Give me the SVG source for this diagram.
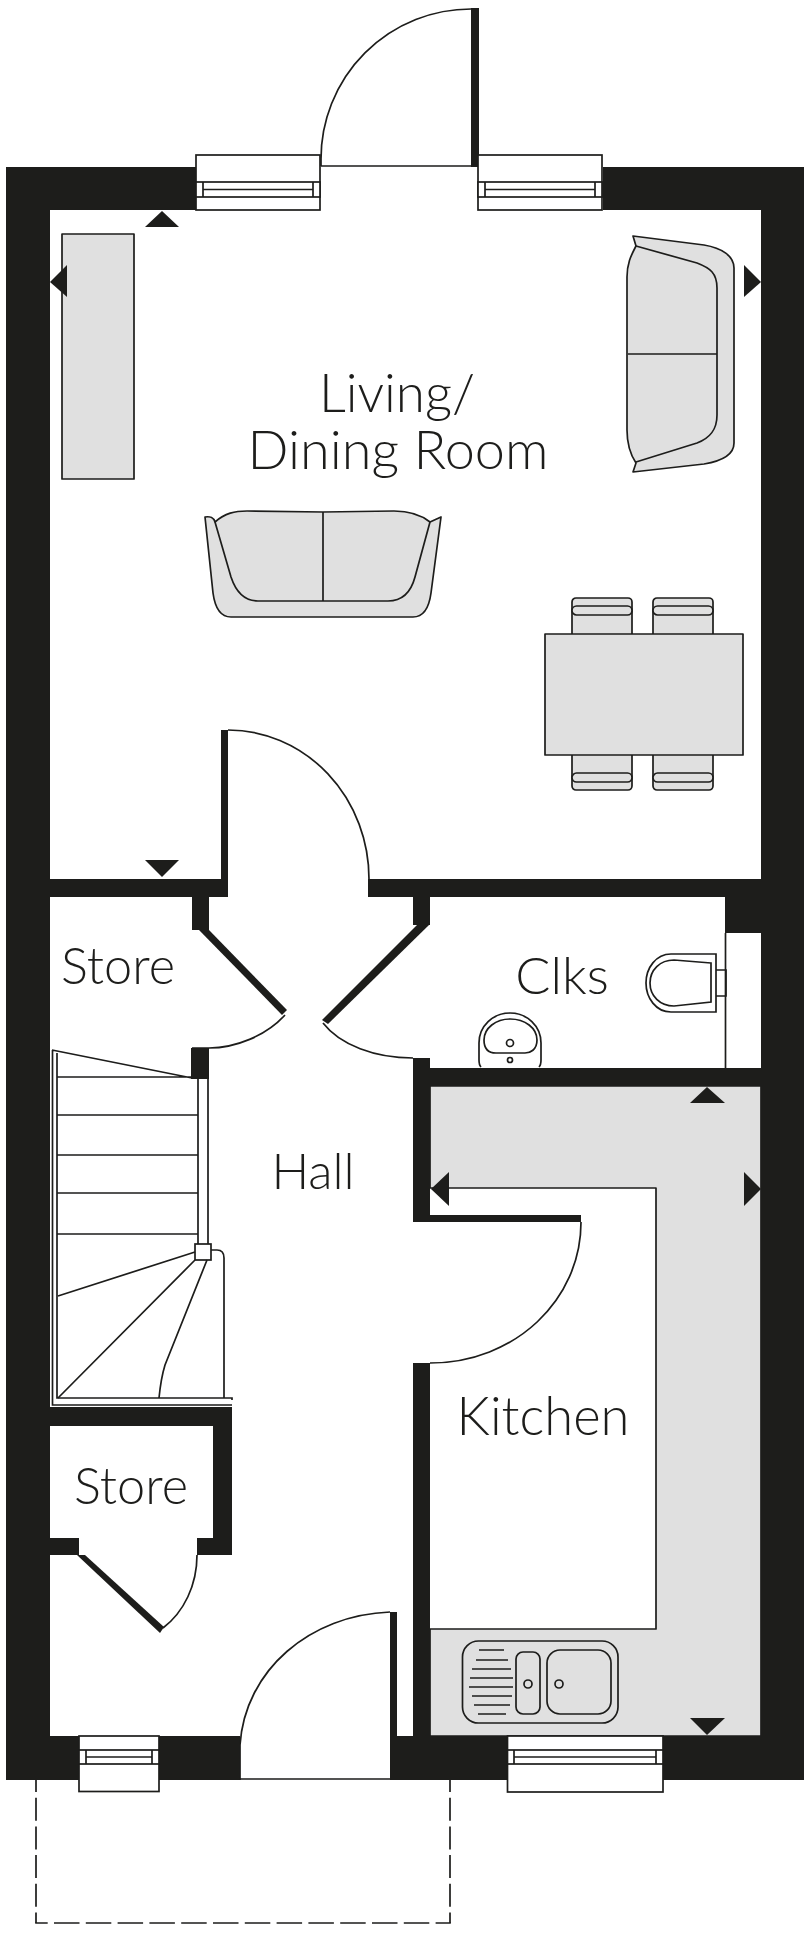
<svg xmlns="http://www.w3.org/2000/svg" width="808" height="1936" viewBox="0 0 808 1936">
<style>
.w{fill:#1d1d1b;stroke:none}
.l{fill:none;stroke:#1d1d1b;stroke-width:1.7}
.g{fill:#e0e0e0;stroke:#1d1d1b;stroke-width:1.7;stroke-linejoin:round}
.f{fill:#fff;stroke:#1d1d1b;stroke-width:1.7}
.t{fill:#1d1d1b;font-family:Lato,"Noto Sans",sans-serif;font-weight:300;text-anchor:middle}
.d{fill:none;stroke:#1d1d1b;stroke-width:1.7}
</style>
<defs>
<g id="win"><rect class="f" x="0" y="0" width="124" height="55"/><rect class="f" x="0" y="27" width="124" height="15"/><path class="l" d="M7 27V42M117 27V42M7 34.500H117"/></g>
<g id="chair"><rect class="g" x="0" y="0" width="60" height="40" rx="4"/><rect class="g" x="0" y="8" width="60" height="9" rx="4.500"/></g>
</defs>
<rect width="808" height="1936" fill="#fff"/>
<g id="kitchen-units">
<path class="g" d="M430 1086H761V1736H430V1629H656V1188H430Z"/>
</g>
<g id="walls">
<rect class="w" x="6" y="167" width="44" height="1613"/>
<rect class="w" x="6" y="167" width="191" height="43"/>
<rect class="w" x="603" y="167" width="201" height="43"/>
<rect class="w" x="761" y="167" width="43" height="1613"/>
<rect class="w" x="50" y="879" width="178" height="18"/>
<rect class="w" x="221" y="730" width="7" height="167"/>
<rect class="w" x="192" y="897" width="17" height="33"/>
<rect class="w" x="191" y="1048" width="18" height="31"/>
<rect class="w" x="50" y="1407" width="182" height="19"/>
<rect class="w" x="213" y="1407" width="19" height="148"/>
<rect class="w" x="197" y="1538" width="35" height="17"/>
<rect class="w" x="50" y="1538" width="29" height="17"/>
<rect class="w" x="6" y="1736" width="234" height="44"/>
<rect class="w" x="368" y="879" width="393" height="18"/>
<rect class="w" x="725" y="897" width="36" height="36"/>
<rect class="w" x="413" y="897" width="17" height="28"/>
<rect class="w" x="413" y="1058" width="17" height="164"/>
<rect class="w" x="413" y="1068" width="348" height="18"/>
<rect class="w" x="430" y="1215" width="151" height="7"/>
<rect class="w" x="413" y="1363" width="17" height="373"/>
<rect class="w" x="390" y="1736" width="414" height="44"/>
<rect class="w" x="390" y="1612" width="7" height="168"/>
<rect class="w" x="471" y="8" width="8" height="159"/>
</g>
<g id="doors">
<path class="l" d="M321 166V159A150 150 0 0 1 471 9M321 166H471"/>
<path class="l" d="M228 730A141 149 0 0 1 369 879"/>
<path class="w" d="M199 930H209L287 1010L282 1015Z"/>
<path class="l" d="M285 1015C266 1036 235 1048 209 1048H192"/>
<path class="w" d="M417 925H429L328 1024L322 1020Z"/>
<path class="l" d="M323 1023C340 1045 375 1058 413 1058"/>
<path class="l" d="M581 1222C581 1300 515 1363 430 1363"/>
<path class="w" d="M77 1555H85L164 1627L160 1633Z"/>
<path class="l" d="M163 1628C184 1612 197 1585 197 1555"/>
<path class="l" d="M240 1780V1745C245 1670 310 1615 390 1612M240 1779H390"/>
</g>
<g id="windows">
<use href="#win" x="196" y="155"/>
<use href="#win" x="478" y="155"/>
<rect class="f" x="79" y="1736" width="80" height="55.500"/>
<rect class="f" x="79" y="1750" width="80" height="14"/>
<path class="l" d="M86 1750V1764M152 1750V1764M86 1757H152"/>
<rect class="f" x="507.500" y="1736" width="155.500" height="56"/>
<rect class="f" x="507.500" y="1750" width="155.500" height="14"/>
<path class="l" d="M514 1750V1764M656 1750V1764M514 1757H656"/>
</g>
<g id="stairs">
<path class="l" d="M52.500 1050V1405H232M57 1053V1398H232V1400M52 1050L192 1078M57 1077H198M57 1115H198M57 1155H198M57 1193H198M57 1234H198M198 1078V1244M208 1079V1244"/>
<rect class="f" x="195" y="1244" width="16" height="16"/>
<path class="l" d="M211 1250H217Q224 1250 224 1258V1398M195 1252L58 1296M195 1260L58 1398M207 1260L165 1365Q161 1378 159 1398"/>
</g>
<g id="sideboard"><rect class="g" x="62" y="234" width="72" height="245"/></g>
<g id="sofa-right">
<path class="g" d="M633 236L704 245C722 248 734 256 734 268V443C734 455 722 461 704 464L633 472L636 463C630 454 627 445 627 430V277C627 262 632 254 636 246Z"/>
<path class="l" d="M636 246L697 263C710 268 717 273 717 288V415C717 430 710 438 697 443L636 462M628 354H717"/>
</g>
<g id="sofa-bottom">
<path class="g" d="M205 517C210 516 214 518 215 522C225 513 235 511 247 511L323 512L394 511C406 511 420 514 430 522L441 517L431 593C429 608 424 617 413 617H231C220 617 215 608 213 593Z"/>
<path class="l" d="M215 522L231 577C236 592 245 601 258 601H388C403 601 411 592 415 577L430 522M323 512V601"/>
</g>
<g id="dining">
<use href="#chair" x="572" y="598"/>
<use href="#chair" x="653" y="598"/>
<use href="#chair" transform="translate(572,790) scale(1,-1)"/>
<use href="#chair" transform="translate(653,790) scale(1,-1)"/>
<rect class="g" x="545" y="634" width="198" height="121"/>
</g>
<g id="wc">
<path class="f" d="M716 970H726V996H716"/>
<path class="f" d="M716 954H671C656 954 646 968 646 983C646 998 656 1012 671 1012H716Z"/>
<path class="l" d="M711 963L674 960C660 960 650 970 650 983C650 996 660 1006 674 1006L711 1002Z"/>
<path class="l" d="M725.500 933V1068"/>
<path class="l" d="M481 1067Q479 1065 479 1060V1043C479 1026 493 1013 510 1013C527 1013 541 1026 541 1043V1060Q541 1065 539 1067"/>
<path class="l" d="M484 1040C484 1028 496 1019 510 1019C525 1019 537 1028 537 1040C537 1050 530 1053 525 1053H496C489 1053 484 1050 484 1040Z"/>
<circle class="l" cx="510" cy="1043" r="3.500"/>
<circle class="l" cx="510" cy="1060" r="2.500"/>
</g>
<g id="sink">
<rect class="g" x="462.500" y="1641" width="155.500" height="82" rx="16"/>
<rect class="l" x="516" y="1652" width="24" height="62" rx="7"/>
<rect class="l" x="547" y="1650" width="64" height="64" rx="13"/>
<circle class="l" cx="528" cy="1684" r="4"/>
<circle class="l" cx="559" cy="1684" r="4"/>
<path class="l" d="M479 1650H504M476 1660H508M472 1669H511M470 1678H513M469 1687H513M472 1696H512M474 1705H510M478 1714H506"/>
</g>
<g id="markers">
<path class="w" d="M162 211L179 227H145Z"/>
<path class="w" d="M50 282L67 265V297Z"/>
<path class="w" d="M761 282L744 265V297Z"/>
<path class="w" d="M162 877L179 860H145Z"/>
<path class="w" d="M707 1087L725 1103H690Z"/>
<path class="w" d="M431 1189L449 1172V1206Z"/>
<path class="w" d="M761 1189L744 1172V1206Z"/>
<path class="w" d="M707 1735L725 1718H690Z"/>
</g>
<g id="porch">
<path class="d" stroke-dasharray="23 5.700" stroke-dashoffset="11" d="M36 1780V1923"/>
<path class="d" stroke-dasharray="23 5.700" stroke-dashoffset="11" d="M450 1780V1923"/>
<path class="d" stroke-dasharray="25.500 6.300" stroke-dashoffset="13" d="M35.200 1923H450.800"/>
</g>
<g id="labels">
<text class="t" x="397" y="411.500" font-size="53">Living/</text>
<text class="t" x="398" y="468.500" font-size="54">Dining Room</text>
<text class="t" x="118" y="983.500" font-size="50.500">Store</text>
<text class="t" x="313" y="1188.500" font-size="50">Hall</text>
<text class="t" x="562" y="993.500" font-size="52">Clks</text>
<text class="t" x="543" y="1434.500" font-size="52.500">Kitchen</text>
<text class="t" x="131" y="1503.500" font-size="50.500">Store</text>
</g>
</svg>
